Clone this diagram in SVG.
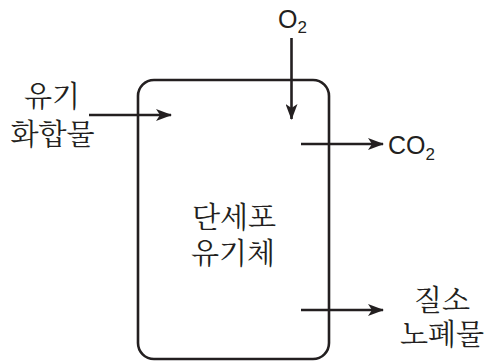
<svg xmlns="http://www.w3.org/2000/svg" width="490" height="362" viewBox="0 0 490 362">
<style>
.ln{stroke:#231f20;stroke-width:2.6;fill:none}
.kr{font-family:"Noto Serif CJK KR","Noto Sans CJK KR",sans-serif;font-size:29px;fill:#231f20;text-anchor:middle}
.en{font-family:"Liberation Sans",Arial,sans-serif;font-size:25px;fill:#231f20}
.sub{font-size:17px}
</style>
<defs>
<marker id="ah" markerWidth="16" markerHeight="12" viewBox="0 0 16 12" refX="15" refY="6" orient="auto" markerUnits="userSpaceOnUse">
<path d="M0,0 L16,6 L0,12 L4,6 Z" fill="#231f20"/>
</marker>
</defs>
<g id="cell">
<rect class="ln" x="138" y="80" width="191" height="279" rx="16" ry="16"/>
<text class="kr" x="234" y="228">단세포</text>
<text class="kr" x="233" y="264">유기체</text>
</g>
<g id="organic">
<text class="kr" x="52" y="107">유기</text>
<text class="kr" x="52.5" y="145">화합물</text>
</g>
<g id="o2">
<text class="en" x="278" y="28">O<tspan class="sub" dy="5">2</tspan></text>
</g>
<g id="co2">
<text class="en" x="388" y="154">CO<tspan class="sub" dy="6">2</tspan></text>
</g>
<g id="waste">
<text class="kr" x="442" y="311">질소</text>
<text class="kr" x="442" y="345">노폐물</text>
</g>
<g id="connectors">
<line class="ln" x1="89" y1="115" x2="171" y2="115" marker-end="url(#ah)"/>
<line class="ln" x1="291.5" y1="38" x2="291.5" y2="119" marker-end="url(#ah)"/>
<line class="ln" x1="301" y1="144" x2="383" y2="144" marker-end="url(#ah)"/>
<line class="ln" x1="301" y1="310" x2="383" y2="310" marker-end="url(#ah)"/>
</g>
</svg>
